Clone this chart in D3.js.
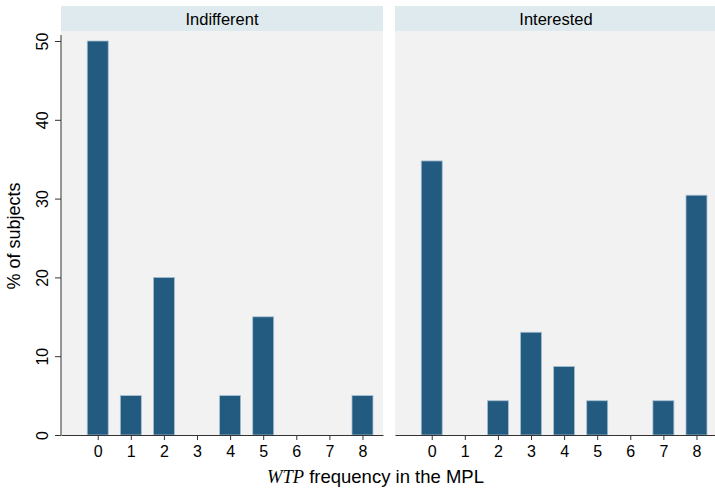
<!DOCTYPE html>
<html>
<head>
<meta charset="utf-8">
<script src="https://cdn.jsdelivr.net/npm/d3@7"></script>
<style>
  body { margin: 0; background: #fff; }
  text { font-family: "Liberation Sans", Arial, Helvetica, sans-serif; fill: #000; }
</style>
</head>
<body>
<div id="chart"></div>
<script>
// data (% of subjects)
const categories = [0, 1, 2, 3, 4, 5, 6, 7, 8];
const panels = ["Indifferent", "Interested"];
const indifferent = [50, 5, 20, 0, 5, 15, 0, 0, 5];
const interested = [34.78, 0, 4.35, 13.04, 8.7, 4.35, 0, 4.35, 30.43];
const yTicks = [0, 10, 20, 30, 40, 50];
const series = [indifferent, interested];

const width = 715, height = 488;
const panelW = 322;
const panelX = [61, 395];
const stripTop = 6, stripH = 25;
const plotTop = 31, plotBottom = 435;

const svg = d3.select("#chart").append("svg")
  .attr("width", width)
  .attr("height", height);

const y = d3.scaleLinear().domain([0, 50]).range([plotBottom, 41]);
const x = d3.scaleLinear().domain([-1.11, 8.62]).range([0, panelW]);
const barW = 21;

panels.forEach((name, i) => {
  const g = svg.append("g").attr("transform", `translate(${panelX[i]},0)`);

  g.append("rect")
    .attr("x", 0).attr("y", plotTop)
    .attr("width", panelW).attr("height", plotBottom - plotTop)
    .style("fill", "#f2f2f2");

  g.append("rect")
    .attr("x", 0).attr("y", stripTop)
    .attr("width", panelW).attr("height", stripH)
    .style("fill", "#deeaed");

  g.append("text")
    .attr("x", panelW / 2).attr("y", stripTop + stripH / 2 + 6)
    .attr("text-anchor", "middle")
    .style("font-size", "16.5px")
    .text(name);

  g.selectAll("rect.bar")
    .data(categories.map((c, k) => ({ c: c, v: series[i][k] })).filter(d => d.v > 0))
    .join("rect")
    .attr("class", "bar")
    .attr("x", d => x(d.c) - barW / 2)
    .attr("y", d => y(d.v))
    .attr("width", barW)
    .attr("height", d => y(0) - y(d.v))
    .style("fill", "#225a80")
    .style("stroke", "#a9c0d2")
    .style("stroke-width", "0.8px");

  const xAxis = d3.axisBottom(x)
    .tickValues(categories)
    .tickSizeInner(5)
    .tickSizeOuter(0)
    .tickPadding(5.5)
    .tickFormat(d3.format("d"));

  const xa = g.append("g")
    .attr("transform", `translate(0,${plotBottom})`)
    .call(xAxis);
  xa.selectAll("text").style("font-size", "16px").style("font-family", "Liberation Sans, Arial, sans-serif");
  xa.selectAll("line, path").style("stroke", "#333");
});

// y axis on the left panel only
const yAxis = d3.axisLeft(y)
  .tickValues(yTicks)
  .tickSizeInner(6)
  .tickSizeOuter(0)
  .tickFormat(d3.format("d"));

const ya = svg.append("g")
  .attr("transform", `translate(${panelX[0]},0)`)
  .call(yAxis);
ya.select(".domain").attr("d", `M0,${plotTop + 4}V${plotBottom}`).style("stroke", "#333");
ya.selectAll("line").style("stroke", "#333");
ya.selectAll("text")
  .attr("x", null).attr("dy", null)
  .attr("text-anchor", "middle")
  .attr("transform", "translate(-13,0) rotate(-90)")
  .style("font-size", "16px")
  .style("font-family", "Liberation Sans, Arial, sans-serif");

svg.append("text")
  .attr("transform", "translate(20,236) rotate(-90)")
  .attr("text-anchor", "middle")
  .style("font-size", "18px")
  .text("% of subjects");

const xt = svg.append("text")
  .attr("x", 375.5).attr("y", 483)
  .attr("text-anchor", "middle")
  .style("font-size", "18.5px");
xt.append("tspan")
  .style("font-family", "Liberation Serif, Times New Roman, serif")
  .style("font-style", "italic")
  .text("WTP");
xt.append("tspan").text(" frequency in the MPL");
</script>
</body>
</html>
